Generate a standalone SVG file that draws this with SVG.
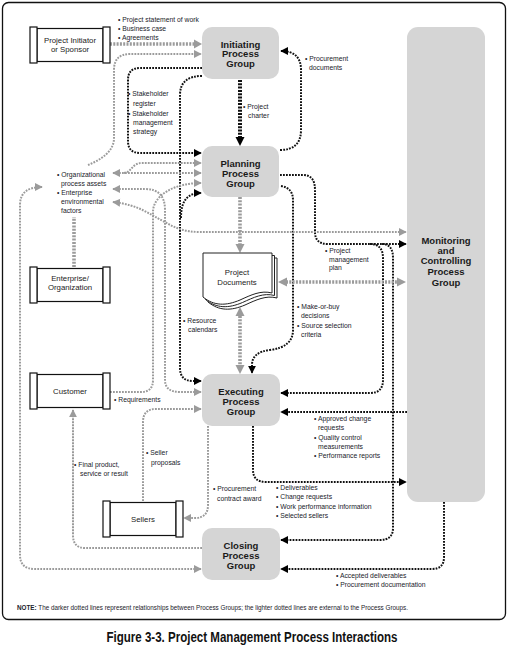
<svg xmlns="http://www.w3.org/2000/svg" width="509" height="647" viewBox="0 0 509 647">
<style>
.frame{fill:#fff;stroke:#111;stroke-width:1.3}
.pg{fill:#d5d5d5;stroke:none}
.box{fill:#fff;stroke:#111;stroke-width:1.2}
.pgt{font-family:"Liberation Sans",Arial,sans-serif;font-weight:bold;font-size:9.5px;fill:#1a1a1a;text-anchor:middle}
.bt{font-family:"Liberation Sans",Arial,sans-serif;font-size:7.8px;fill:#222;text-anchor:middle}
.lb{font-family:"Liberation Sans",Arial,sans-serif;font-size:6.8px;fill:#22222a}
.dk{fill:none;stroke:#111;stroke-width:2;stroke-dasharray:1.8 1.2}
.dkt{fill:none;stroke:#111;stroke-width:4;stroke-dasharray:2 1.3}
.lt{fill:none;stroke:#9b9b9b;stroke-width:2;stroke-dasharray:1.8 1.2}
.ltt{fill:none;stroke:#9b9b9b;stroke-width:3.6;stroke-dasharray:2 1.3}
.doc{fill:#fff;stroke:#222;stroke-width:1}
</style>
<defs>
<marker id="ab" viewBox="0 0 10 10" refX="9" refY="5" markerWidth="8" markerHeight="9" markerUnits="userSpaceOnUse" orient="auto-start-reverse"><path d="M0,0 L10,5 L0,10 z" fill="#000"/></marker>
<marker id="ag" viewBox="0 0 10 10" refX="9" refY="5" markerWidth="8" markerHeight="9" markerUnits="userSpaceOnUse" orient="auto-start-reverse"><path d="M0,0 L10,5 L0,10 z" fill="#9b9b9b"/></marker>
</defs>
<rect class="frame" x="2.5" y="2.5" width="503" height="617" rx="6"/>

<g id="connectors">
<!-- dark (between process groups) -->
<path class="dkt" d="M240,80 V138" />
<path d="M240,146 L235.5,137 L244.5,137 z" fill="#000"/>
<path class="dk" d="M202,68 H140 Q128,68 128,80 V141 Q128,153 140,153 H201" marker-end="url(#ab)"/>
<path class="dk" d="M202,76 C188,76 180,82 180,95 V368 Q180,381 193,381 H201" marker-end="url(#ab)"/>
<path class="dk" d="M181,218 C181,200 188,193 201,193" marker-end="url(#ab)"/>
<path class="dk" d="M280,150 Q301,150 301,130 V70 Q301,51 281,51" marker-end="url(#ab)"/>
<path class="dk" d="M280,175 H303 Q315,175 315,190 V232 Q315,244 328,244 H406" marker-end="url(#ab)"/>
<path class="dk" d="M281,186 Q293,188 293,200 V330 Q293,347 270,350 Q252,352 252,365 V373" marker-end="url(#ab)"/>
<path class="dk" d="M370,244 Q383,244 383,258 V380 Q383,393 370,393 H281" marker-end="url(#ab)"/>
<path class="dk" d="M382,244 Q393,244 393,258 V528 Q393,540 380,540 H281" marker-end="url(#ab)"/>
<path class="dk" d="M407,412 H281" marker-end="url(#ab)"/>
<path class="dk" d="M253,426 V470 Q253,482 266,482 H406" marker-end="url(#ab)"/>
<path class="dk" d="M444,502 V557 Q444,569 432,569 H281" marker-end="url(#ab)"/>
<!-- light (external) -->
<path class="ltt" d="M110,44 H194"/>
<path d="M202,44 L194,39.5 L194,48.5 z" fill="#9b9b9b"/>
<path class="lt" d="M88,165 C100,160 114,152 114,138 V70 Q114,54 130,54 H201" marker-end="url(#ag)"/>
<path class="ltt" d="M240,197 V245"/>
<path d="M240,253 L235.5,244 L244.5,244 z" fill="#9b9b9b"/>
<path class="ltt" d="M240,316 V365"/>
<path d="M240,307 L235.5,316 L244.5,316 z" fill="#9b9b9b"/>
<path d="M240,374 L235.5,365 L244.5,365 z" fill="#9b9b9b"/>
<path class="ltt" d="M286,282 H398"/>
<path d="M278,282 L287,277.5 L287,286.5 z" fill="#9b9b9b"/>
<path d="M406,282 L397,277.5 L397,286.5 z" fill="#9b9b9b"/>
<path class="lt" d="M113,173 H201" marker-start="url(#ag)" marker-end="url(#ag)"/>
<path class="lt" d="M124,173 C132,172 132,163 142,163 H201" marker-end="url(#ag)"/>
<path class="lt" d="M110,392 H141 Q153,392 153,380 V212 C153,195 175,183 201,183" marker-end="url(#ag)"/>
<path class="lt" d="M113,189 H145 Q165,189 165,210 V380 Q165,392 180,392 H201" marker-start="url(#ag)" marker-end="url(#ag)"/>
<path class="lt" d="M113,202 C140,205 150,215 165,222 C175,228 185,232 200,232 H406" marker-start="url(#ag)" marker-end="url(#ag)"/>
<path class="lt" d="M42,187 Q20,187 20,205 V555 Q20,569 35,569 H201" marker-start="url(#ag)" marker-end="url(#ag)"/>
<path class="ltt" d="M74,267 V217"/>
<path class="lt" d="M202,548 H85 Q73,548 73,535 V410" marker-end="url(#ag)"/>
<path class="lt" d="M143,501 V422 Q143,409 156,409 H201" marker-end="url(#ag)"/>
<path class="lt" d="M208,426 V505 Q208,518 195,518 H184" marker-end="url(#ag)"/>
</g>

<g id="initiating">
<rect class="pg" x="202" y="27" width="77" height="52" rx="10"/>
<text class="pgt" x="240.5" y="47.5">Initiating</text>
<text class="pgt" x="240.5" y="57">Process</text>
<text class="pgt" x="240.5" y="66.5">Group</text>
</g>
<g id="planning">
<rect class="pg" x="202" y="146" width="77" height="51" rx="10"/>
<text class="pgt" x="240.5" y="166.5">Planning</text>
<text class="pgt" x="240.5" y="176.5">Process</text>
<text class="pgt" x="240.5" y="186.5">Group</text>
</g>
<g id="executing">
<rect class="pg" x="202" y="374" width="78" height="52" rx="10"/>
<text class="pgt" x="241" y="394.5">Executing</text>
<text class="pgt" x="241" y="404.5">Process</text>
<text class="pgt" x="241" y="415">Group</text>
</g>
<g id="closing">
<rect class="pg" x="202" y="528" width="78" height="52" rx="10"/>
<text class="pgt" x="241" y="548.5">Closing</text>
<text class="pgt" x="241" y="558.5">Process</text>
<text class="pgt" x="241" y="569">Group</text>
</g>
<g id="monitoring">
<rect class="pg" x="407" y="27" width="78" height="475" rx="11"/>
<text class="pgt" x="446" y="243.5">Monitoring</text>
<text class="pgt" x="446" y="253.5">and</text>
<text class="pgt" x="446" y="263.5">Controlling</text>
<text class="pgt" x="446" y="274.5">Process</text>
<text class="pgt" x="446" y="285.5">Group</text>
</g>

<g id="sponsor">
<rect class="box" x="37" y="28.5" width="66" height="33"/>
<rect class="box" x="30" y="27" width="7" height="36"/>
<rect class="box" x="103" y="27" width="7" height="36"/>
<text class="bt" x="70" y="42.8">Project Initiator</text>
<text class="bt" x="70" y="51.8">or Sponsor</text>
</g>
<g id="enterprise">
<rect class="box" x="37" y="268.5" width="66" height="33"/>
<rect class="box" x="30" y="267" width="7" height="36"/>
<rect class="box" x="103" y="267" width="7" height="36"/>
<text class="bt" x="70" y="280.8">Enterprise/</text>
<text class="bt" x="70" y="289.8">Organization</text>
</g>
<g id="customer">
<rect class="box" x="37" y="374.5" width="66" height="33"/>
<rect class="box" x="30" y="373" width="7" height="36"/>
<rect class="box" x="103" y="373" width="7" height="36"/>
<text class="bt" x="70" y="393.8">Customer</text>
</g>
<g id="sellers">
<rect class="box" x="110" y="502.5" width="66" height="33"/>
<rect class="box" x="103" y="501" width="7" height="36"/>
<rect class="box" x="176" y="501" width="7" height="36"/>
<text class="bt" x="143" y="521.8">Sellers</text>
</g>
<g id="project-documents">
<path class="doc" d="M208,258 H277 V298 C266,295 256,300 245,305 C231,311 219,311 208,302 Z"/>
<path class="doc" d="M205.5,255.5 H274.5 V295.5 C263.5,292.5 253.5,297.5 242.5,302.5 C228.5,308.5 216.5,308.5 205.5,299.5 Z"/>
<path class="doc" d="M203,253 H272 V293 C261,290 251,295 240,300 C226,306 214,306 203,297 Z"/>
<text class="bt" x="237" y="274.8">Project</text>
<text class="bt" x="237" y="284.8">Documents</text>
</g>
<g id="org-assets">
<text class="lb" x="57" y="176.5">• Organizational</text>
<text class="lb" x="61" y="185.5">process assets</text>
<text class="lb" x="57" y="194.5">• Enterprise</text>
<text class="lb" x="61" y="203.5">environmental</text>
<text class="lb" x="61" y="212.5">factors</text>
</g>

<g id="labels">
<text class="lb" x="118" y="21.8">• Project statement of work</text>
<text class="lb" x="118" y="31">• Business case</text>
<text class="lb" x="118" y="40">• Agreements</text>
<text class="lb" x="128" y="95.5">• Stakeholder</text>
<text class="lb" x="133" y="106">register</text>
<text class="lb" x="128" y="115.5">• Stakeholder</text>
<text class="lb" x="133" y="124.5">management</text>
<text class="lb" x="133" y="133.5">strategy</text>
<text class="lb" x="243" y="108.5">• Project</text>
<text class="lb" x="248" y="117.5">charter</text>
<text class="lb" x="305" y="60.5">• Procurement</text>
<text class="lb" x="309" y="69.5">documents</text>
<text class="lb" x="325" y="252.5">• Project</text>
<text class="lb" x="329" y="262">management</text>
<text class="lb" x="329" y="270">plan</text>
<text class="lb" x="183" y="322.5">• Resource</text>
<text class="lb" x="188" y="331.5">calendars</text>
<text class="lb" x="297" y="308.5">• Make-or-buy</text>
<text class="lb" x="301" y="317.5">decisions</text>
<text class="lb" x="297" y="327.5">• Source selection</text>
<text class="lb" x="301" y="336.5">criteria</text>
<text class="lb" x="114" y="401.5">• Requirements</text>
<text class="lb" x="314" y="420.5">• Approved change</text>
<text class="lb" x="318" y="429.5">requests</text>
<text class="lb" x="314" y="439.5">• Quality control</text>
<text class="lb" x="318" y="448.5">measurements</text>
<text class="lb" x="314" y="457.5">• Performance reports</text>
<text class="lb" x="146" y="454.5">• Seller</text>
<text class="lb" x="151" y="464.5">proposals</text>
<text class="lb" x="74" y="466.5">• Final product,</text>
<text class="lb" x="80" y="475.5">service or result</text>
<text class="lb" x="213" y="490.5">• Procurement</text>
<text class="lb" x="217" y="500.5">contract award</text>
<text class="lb" x="276" y="489.5">• Deliverables</text>
<text class="lb" x="276" y="499">• Change requests</text>
<text class="lb" x="276" y="509">• Work performance information</text>
<text class="lb" x="276" y="518">• Selected sellers</text>
<text class="lb" x="336" y="577.5">• Accepted deliverables</text>
<text class="lb" x="336" y="586.5">• Procurement documentation</text>
</g>

<text class="lb" x="17" y="609.5" textLength="391" lengthAdjust="spacingAndGlyphs"><tspan font-weight="bold">NOTE:</tspan> The darker dotted lines represent relationships between Process Groups; the lighter dotted lines are external to the Process Groups.</text>
<text x="252" y="642" font-family="Liberation Sans,Arial,sans-serif" font-weight="bold" font-size="14" fill="#111" text-anchor="middle" textLength="291" lengthAdjust="spacingAndGlyphs">Figure 3-3. Project Management Process Interactions</text>
</svg>
